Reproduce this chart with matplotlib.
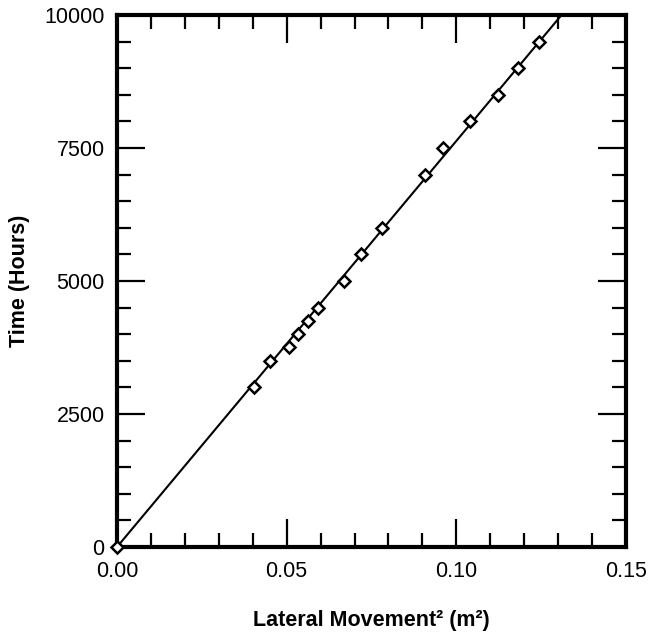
import numpy as np
import matplotlib.pyplot as plt
from matplotlib.ticker import MultipleLocator

plt.rcParams['font.family'] = ['Liberation Sans', 'DejaVu Sans']

# measured squared lateral movement vs elapsed time
movement_sq = [0.0, 0.0404, 0.0451, 0.0507, 0.0534, 0.0562, 0.0593, 0.0669, 0.0718,
               0.0782, 0.0908, 0.0962, 0.1040, 0.1124, 0.1181, 0.1243]
hours = [0, 3000, 3500, 3750, 4000, 4250, 4500, 5000, 5500,
         6000, 7000, 7500, 8000, 8500, 9000, 9500]

# least squares line through the origin
x = np.array(movement_sq)
y = np.array(hours)
slope = np.sum(x * y) / np.sum(x * x)
fit_x = np.array([0.0, 0.15])

fig = plt.figure(figsize=(6.49, 6.39), dpi=100)
ax = fig.add_axes([0.1803, 0.144, 0.7843, 0.8325])

ax.plot(fit_x, slope * fit_x, color='black', lw=1.5, zorder=2)
ax.plot(movement_sq, hours, linestyle='none', marker='D', markersize=6.5,
        markerfacecolor='white', markeredgecolor='black', markeredgewidth=1.8,
        clip_on=False, zorder=3)

ax.set_xlim(0, 0.15)
ax.set_ylim(0, 10000)
ax.xaxis.set_major_locator(MultipleLocator(0.05))
ax.xaxis.set_minor_locator(MultipleLocator(0.01))
ax.yaxis.set_major_locator(MultipleLocator(2500))
ax.yaxis.set_minor_locator(MultipleLocator(500))
ax.xaxis.set_major_formatter(plt.FormatStrFormatter('%.2f'))

ax.tick_params(which='both', direction='in', top=True, right=True, width=1.6,
               labelsize=15.5)
ax.tick_params(which='major', length=20)
ax.tick_params(which='minor', length=10)
ax.tick_params(axis='x', which='major', pad=10)
ax.tick_params(axis='y', which='major', pad=9)

for side in ax.spines.values():
    side.set_linewidth(3)

ax.set_xlabel('Lateral Movement² (m²)', fontsize=15.5, fontweight='bold', labelpad=20)
ax.set_ylabel('Time (Hours)', fontsize=15.5, fontweight='bold', labelpad=10)

fig.savefig('out.png', dpi=100)
